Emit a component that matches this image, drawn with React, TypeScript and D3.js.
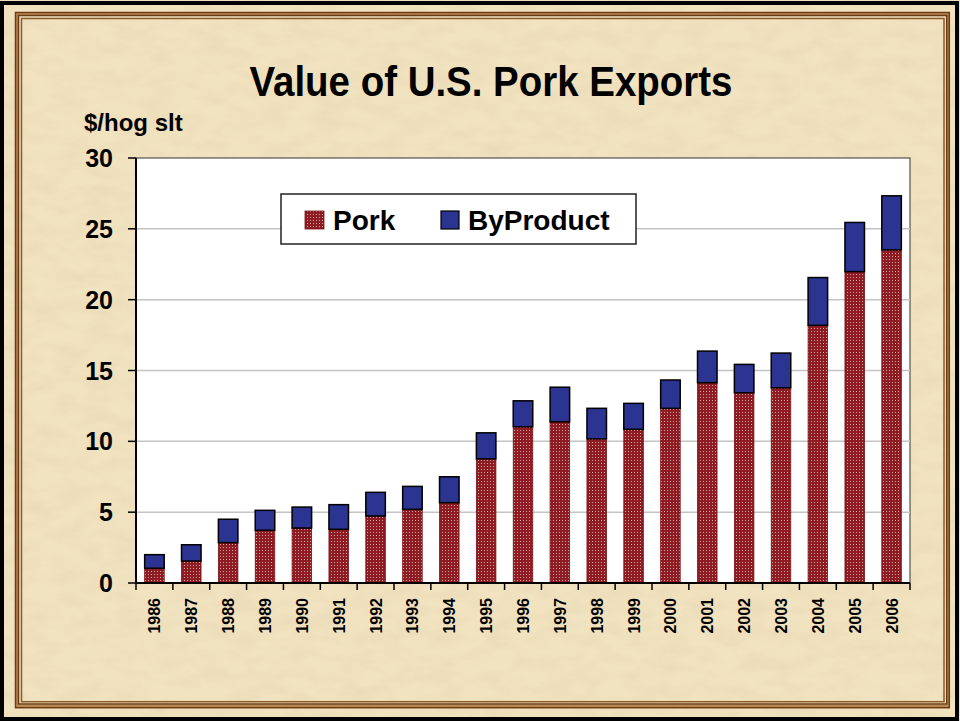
import React from "react";
import * as d3 from "d3";

const years = ["1986","1987","1988","1989","1990","1991","1992","1993","1994","1995","1996","1997","1998","1999","2000","2001","2002","2003","2004","2005","2006"];
const pork = [1.04, 1.55, 2.85, 3.72, 3.88, 3.79, 4.73, 5.2, 5.67, 8.77, 11.03, 11.38, 10.18, 10.85, 12.33, 14.14, 13.43, 13.78, 18.19, 21.98, 23.52];
const totals = [2.0, 2.7, 4.5, 5.13, 5.36, 5.53, 6.4, 6.82, 7.5, 10.6, 12.86, 13.82, 12.33, 12.68, 14.33, 16.37, 15.43, 16.23, 21.56, 25.45, 27.33];
const byproduct = totals.map((t, i) => +(t - pork[i]).toFixed(2));
const yTicks = [0, 5, 10, 15, 20, 25, 30];
const seriesNames = ["Pork", "ByProduct"];

const W = 960, H = 721;
const L = 136, R = 910, T = 158, B = 583;
const FONT = "'Liberation Sans', Arial, Helvetica, sans-serif";

export default function App() {
  const x = d3.scaleBand<string>().domain(years).range([L, R]).paddingInner(0.47).paddingOuter(0.235);
  const y = d3.scaleLinear().domain([0, 30]).range([B, T]);
  const step = x.step();

  const stack = d3.stack<any>().keys(["pork", "byproduct"])(
    years.map((yr, i) => ({ year: yr, pork: pork[i], byproduct: byproduct[i] }))
  );

  return (
    <svg width={W} height={H} style={{ position: "absolute", left: 0, top: 0, display: "block" }} fontFamily={FONT}>
      <defs>
        <filter id="paper" x="0" y="0" width="100%" height="100%">
          <feTurbulence type="fractalNoise" baseFrequency="0.035 0.07" numOctaves="4" seed="7" result="n" />
          <feColorMatrix in="n" type="matrix" values="0 0 0 0 0.68  0 0 0 0 0.56  0 0 0 0 0.36  1.4 0 0 0 -0.5" />
        </filter>
        <pattern id="porkPat" width="3" height="3" patternUnits="userSpaceOnUse">
          <rect width="3" height="3" fill="#8e1c22" />
          <rect x="1" y="1" width="1" height="1" fill="#c7a2a2" />
        </pattern>
      </defs>

      {/* parchment background */}
      <rect x={0} y={0} width={W} height={H} fill="#f2e3c0" />
      <rect x={0} y={0} width={W} height={H} filter="url(#paper)" opacity={0.35} />

      {/* frame */}
      <rect x={2} y={3} width={955} height={716} fill="none" stroke="#000" strokeWidth={4} />
      <rect x={17} y={14} width={931} height={692} fill="none" stroke="#b98a55" strokeWidth={3} />
      <rect x={15.5} y={12.5} width={933.8} height={695.2} fill="none" stroke="#6b3c14" strokeWidth={1.5} />
      <rect x={18.5} y={15.5} width={928.2} height={688.5} fill="none" stroke="#6b3c14" strokeWidth={1.5} />
      <rect x={21.5} y={18.5} width={922.5} height={683.2} fill="none" stroke="#8a5a2a" strokeWidth={1.5} />

      {/* title */}
      <text x={491} y={96} textAnchor="middle" fontSize={38} fontWeight="bold" fill="#000"
        textLength={483} lengthAdjust="spacingAndGlyphs" transform="translate(0,-9.6) scale(1,1.1)">Value of U.S. Pork Exports</text>
      <text x={84} y={131} fontSize={24} fontWeight="bold" fill="#000">$/hog slt</text>

      {/* plot area */}
      <rect x={L} y={T} width={R - L} height={B - T} fill="#fff" stroke="#333" strokeWidth={1} />
      {yTicks.filter(v => v > 0 && v < 30).map(v => (
        <line key={v} x1={L} x2={R} y1={y(v)} y2={y(v)} stroke="#c4c4c4" strokeWidth={1.5} />
      ))}

      {/* bars */}
      {stack[0].map((d, i) => (
        <rect key={"p" + i} x={x(years[i])!} y={y(d[1])} width={x.bandwidth()} height={y(d[0]) - y(d[1])}
          fill="url(#porkPat)" stroke="#7a1216" strokeWidth={0.8} />
      ))}
      {stack[1].map((d, i) => (
        <rect key={"b" + i} x={x(years[i])!} y={y(d[1])} width={x.bandwidth()} height={y(d[0]) - y(d[1])}
          fill="#2c3491" stroke="#000" strokeWidth={1.5} />
      ))}

      {/* y axis */}
      <line x1={L} x2={L} y1={T} y2={B} stroke="#000" strokeWidth={2} />
      {yTicks.map(v => (
        <g key={v}>
          <line x1={L - 8} x2={L} y1={y(v)} y2={y(v)} stroke="#000" strokeWidth={1.5} />
          <text x={113} y={y(v)} dy="0.36em" textAnchor="end" fontSize={25} fontWeight="bold" fill="#000">{v}</text>
        </g>
      ))}

      {/* x axis */}
      <line x1={L} x2={R} y1={B} y2={B} stroke="#000" strokeWidth={2} />
      {d3.range(years.length + 1).map(i => (
        <line key={i} x1={L + i * step} x2={L + i * step} y1={B} y2={B + 7} stroke="#000" strokeWidth={1.5} />
      ))}
      {years.map(yr => {
        const cx = x(yr)! + x.bandwidth() / 2;
        return (
          <text key={yr} transform={`translate(${cx + 6},598) rotate(-90)`} textAnchor="end" fontSize={16} fontWeight="bold" fill="#000">{yr}</text>
        );
      })}

      {/* legend */}
      <rect x={281} y={194} width={355} height={50} fill="#fff" stroke="#222" strokeWidth={1.5} />
      <rect x={305} y={211} width={19} height={18} fill="url(#porkPat)" stroke="#7a1216" strokeWidth={0.8} />
      <text x={333} y={230} fontSize={28} fontWeight="bold" fill="#000">{seriesNames[0]}</text>
      <rect x={441} y={211} width={18} height={18} fill="#2c3491" stroke="#000" strokeWidth={1.2} />
      <text x={468} y={230} fontSize={28} fontWeight="bold" fill="#000">{seriesNames[1]}</text>
    </svg>
  );
}
